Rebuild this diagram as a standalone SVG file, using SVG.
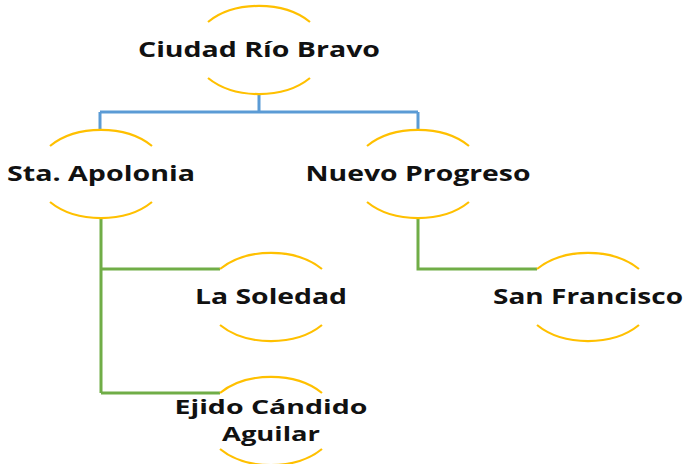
<svg xmlns="http://www.w3.org/2000/svg" width="684" height="464" viewBox="0 0 684 464">
<style>
.arc{fill:none;stroke:#FFC000;stroke-width:2.2}
.lbl{font-family:"Open Sans","Liberation Sans",sans-serif;font-weight:bold;font-size:21px;fill:#111;text-anchor:middle}
.sm{font-size:19.5px}
.blue{fill:none;stroke:#5B9BD5;stroke-width:3}
.green{fill:none;stroke:#70AD47;stroke-width:3}
</style>
<defs>
<path id="node" class="arc" d="M-51,-28 A66 44 0 0 1 51,-28 M-51,28 A66 44 0 0 0 51,28"/>
</defs>
<rect width="684" height="464" fill="#fff"/>
<g id="connectors">
<path class="blue" d="M259,94 V112 M100,112 H418 M100,112 V130 M418,112 V130"/>
<path class="green" d="M101,218 V393 M101,269 H220 M101,393 H220"/>
<path class="green" d="M418,218 V269 H537"/>
</g>
<g id="n-root"><use href="#node" x="259" y="50"/><text class="lbl" x="259" y="57" textLength="242" lengthAdjust="spacingAndGlyphs">Ciudad Río Bravo</text></g>
<g id="n-apolonia"><use href="#node" x="101" y="174"/><text class="lbl" x="101" y="181" textLength="188" lengthAdjust="spacingAndGlyphs">Sta. Apolonia</text></g>
<g id="n-nuevo"><use href="#node" x="418" y="174"/><text class="lbl" x="418" y="181" textLength="225" lengthAdjust="spacingAndGlyphs">Nuevo Progreso</text></g>
<g id="n-soledad"><use href="#node" x="271" y="297"/><text class="lbl" x="271" y="304" textLength="152" lengthAdjust="spacingAndGlyphs">La Soledad</text></g>
<g id="n-sanfrancisco"><use href="#node" x="588" y="297"/><text class="lbl" x="588" y="304" textLength="190" lengthAdjust="spacingAndGlyphs">San Francisco</text></g>
<g id="n-ejido"><use href="#node" x="271" y="421"/><text class="lbl sm" x="271" y="414" textLength="193" lengthAdjust="spacingAndGlyphs">Ejido Cándido</text><text class="lbl sm" x="271" y="441" textLength="98" lengthAdjust="spacingAndGlyphs">Aguilar</text></g>
</svg>
